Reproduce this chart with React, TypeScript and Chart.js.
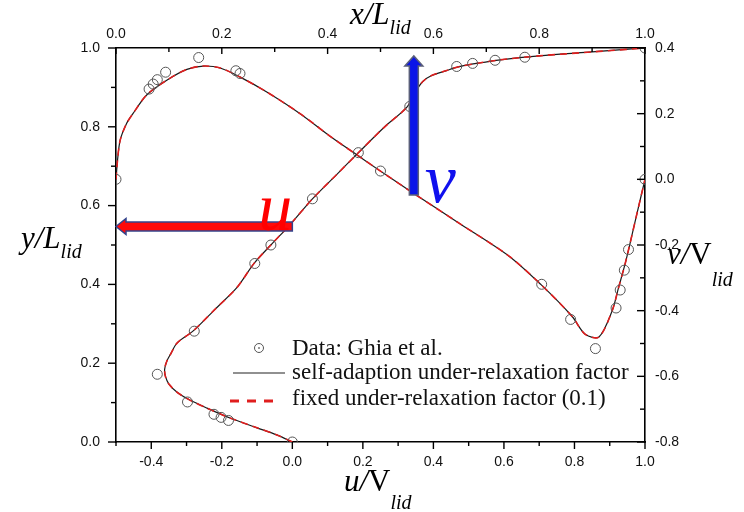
import React, { useEffect, useRef } from "react";
import { Chart, registerables } from "chart.js";

Chart.register(...registerables);

// ---- Ghia et al. (Re = 1000) reference data ----
const ghiaY = [1.0, 0.9766, 0.9688, 0.9609, 0.9531, 0.8516, 0.7344, 0.6172, 0.5, 0.4531, 0.2813, 0.1719, 0.1016, 0.0703, 0.0625, 0.0547, 0.0];
const ghiaU = [1.0, 0.65928, 0.57492, 0.51117, 0.46604, 0.33304, 0.18719, 0.05702, -0.0608, -0.10648, -0.27805, -0.38289, -0.2973, -0.2222, -0.20196, -0.18109, 0.0];
const ghiaX = [1.0, 0.9688, 0.9609, 0.9531, 0.9453, 0.9063, 0.8594, 0.8047, 0.5, 0.2344, 0.2266, 0.1563, 0.0938, 0.0781, 0.0703, 0.0625, 0.0];
const ghiaV = [0.0, -0.21388, -0.27669, -0.33714, -0.39188, -0.5155, -0.42665, -0.31966, 0.02526, 0.32235, 0.33075, 0.37095, 0.32627, 0.30353, 0.29012, 0.27485, 0.0];

// ---- simulation: u along vertical centreline ----
const simUY = [0, 0.018, 0.036, 0.061, 0.086, 0.107, 0.125, 0.147, 0.167, 0.185, 0.205, 0.225, 0.251, 0.282, 0.338, 0.391, 0.454, 0.5, 0.55, 0.617, 0.68, 0.734, 0.8, 0.85, 0.89, 0.915, 0.93, 0.942, 0.952, 0.962, 0.97, 0.98, 0.99, 1.0];
const simU = [0, -0.044, -0.1, -0.177, -0.242, -0.292, -0.325, -0.35, -0.36, -0.362, -0.356, -0.344, -0.327, -0.281, -0.218, -0.158, -0.108, -0.061, -0.008, 0.057, 0.127, 0.187, 0.262, 0.325, 0.35, 0.37, 0.395, 0.435, 0.47, 0.53, 0.59, 0.7, 0.85, 1.0];

// ---- simulation: v along horizontal centreline ----
const simVX = [0, 0.003, 0.008, 0.02, 0.032, 0.058, 0.096, 0.134, 0.165, 0.197, 0.234, 0.285, 0.348, 0.41, 0.455, 0.5, 0.56, 0.65, 0.743, 0.803, 0.862, 0.887, 0.913, 0.938, 0.95, 0.962, 0.97, 0.985, 1.0];
const simV = [0, 0.06, 0.12, 0.17, 0.2, 0.257, 0.302, 0.335, 0.345, 0.339, 0.312, 0.266, 0.2, 0.125, 0.075, 0.025, -0.04, -0.135, -0.234, -0.32, -0.417, -0.472, -0.48, -0.4, -0.33, -0.26, -0.207, -0.103, 0];

// ---- axes ticks ----
const uTicks = [-0.4, -0.2, 0.0, 0.2, 0.4, 0.6, 0.8, 1.0];
const uMinor = [-0.5, -0.3, -0.1, 0.1, 0.3, 0.5, 0.7, 0.9];
const xTicks = [0.0, 0.2, 0.4, 0.6, 0.8, 1.0];
const xMinor = [0.1, 0.3, 0.5, 0.7, 0.9];
const yTicks = [0.0, 0.2, 0.4, 0.6, 0.8, 1.0];
const yMinor = [0.1, 0.3, 0.5, 0.7, 0.9];
const vTicks = [-0.8, -0.6, -0.4, -0.2, 0.0, 0.2, 0.4];
const vMinor = [-0.7, -0.5, -0.3, -0.1, 0.1, 0.3];

const legendLabels = ["Data: Ghia et al.", "self-adaption under-relaxation factor", "fixed under-relaxation factor (0.1)"];

const SERIF = '"Liberation Serif", "Times New Roman", serif';
const SANS = '"Liberation Sans", Arial, sans-serif';

const pts = (xs: number[], ys: number[]) => xs.map((x, i) => ({ x, y: ys[i] }));

function drawRich(ctx: CanvasRenderingContext2D, parts: { t: string; f: string; dy: number }[], x: number, y: number) {
  let cx = x;
  for (const p of parts) {
    ctx.font = p.f;
    ctx.fillText(p.t, cx, y + p.dy);
    cx += ctx.measureText(p.t).width;
  }
}

const decorPlugin = {
  id: "decor",
  afterDatasetsDraw(chart: any) {
    const ctx: CanvasRenderingContext2D = chart.ctx;
    const { xu, xt, yl, yr } = chart.scales;
    ctx.save();
    // u arrow (horizontal, red)
    const ay = yl.getPixelForValue(0.547);
    const ax0 = xu.getPixelForValue(0.0);
    const ax1 = xu.getPixelForValue(-0.5);
    ctx.beginPath();
    ctx.moveTo(ax0, ay - 4.5);
    ctx.lineTo(ax1 + 10, ay - 4.5);
    ctx.lineTo(ax1 + 10, ay - 8);
    ctx.lineTo(ax1, ay);
    ctx.lineTo(ax1 + 10, ay + 8);
    ctx.lineTo(ax1 + 10, ay + 4.5);
    ctx.lineTo(ax0, ay + 4.5);
    ctx.closePath();
    ctx.fillStyle = "#ff0a0a";
    ctx.fill();
    ctx.strokeStyle = "#34448c";
    ctx.lineWidth = 1.5;
    ctx.stroke();
    // v arrow (vertical, blue)
    const bx = xt.getPixelForValue(0.563);
    const by0 = yr.getPixelForValue(-0.048);
    const by1 = yr.getPixelForValue(0.376);
    ctx.beginPath();
    ctx.moveTo(bx - 4.5, by0);
    ctx.lineTo(bx - 4.5, by1 + 10);
    ctx.lineTo(bx - 9, by1 + 10);
    ctx.lineTo(bx, by1);
    ctx.lineTo(bx + 9, by1 + 10);
    ctx.lineTo(bx + 4.5, by1 + 10);
    ctx.lineTo(bx + 4.5, by0);
    ctx.closePath();
    ctx.fillStyle = "#0a14e8";
    ctx.fill();
    ctx.strokeStyle = "#5a5f7a";
    ctx.lineWidth = 1.5;
    ctx.stroke();
    // letters
    ctx.textBaseline = "alphabetic";
    ctx.textAlign = "left";
    ctx.fillStyle = "#ff0000";
    ctx.font = `italic 68px ${SERIF}`;
    ctx.fillText("u", ax0 - 34, ay + 4);
    ctx.fillStyle = "#1010ee";
    ctx.font = `italic 70px ${SERIF}`;
    ctx.fillText("v", bx + 11, by0 + 7);
    ctx.restore();
  },
  afterDraw(chart: any) {
    const ctx: CanvasRenderingContext2D = chart.ctx;
    const { xu, xt, yl, yr } = chart.scales;
    const { left, right, top, bottom } = chart.chartArea;
    ctx.save();
    ctx.strokeStyle = "#000";
    ctx.lineWidth = 1.4;
    const line = (x0: number, y0: number, x1: number, y1: number) => {
      ctx.beginPath();
      ctx.moveTo(x0, y0);
      ctx.lineTo(x1, y1);
      ctx.stroke();
    };
    uTicks.forEach((v) => { const p = xu.getPixelForValue(v); line(p, bottom, p, bottom + 7); });
    uMinor.forEach((v) => { const p = xu.getPixelForValue(v); line(p, bottom, p, bottom + 4); });
    xTicks.forEach((v) => { const p = xt.getPixelForValue(v); line(p, top, p, top + 6); });
    xMinor.forEach((v) => { const p = xt.getPixelForValue(v); line(p, top, p, top + 4); });
    yTicks.forEach((v) => { const p = yl.getPixelForValue(v); line(left, p, left - 8, p); });
    yMinor.forEach((v) => { const p = yl.getPixelForValue(v); line(left, p, left - 5, p); });
    vTicks.forEach((v) => { const p = yr.getPixelForValue(v); line(right, p, right - 8, p); });
    vMinor.forEach((v) => { const p = yr.getPixelForValue(v); line(right, p, right - 5, p); });

    // axis titles
    ctx.fillStyle = "#000";
    ctx.textBaseline = "alphabetic";
    ctx.textAlign = "left";
    const big = `italic 31px ${SERIF}`;
    const bigUp = `31px ${SERIF}`;
    const sub = `italic 20px ${SERIF}`;
    drawRich(ctx, [{ t: "x/L", f: big, dy: 0 }, { t: "lid", f: sub, dy: 10 }], 350, 24);
    drawRich(ctx, [{ t: "y/L", f: big, dy: 0 }, { t: "lid", f: sub, dy: 10 }], 21, 248);
    drawRich(ctx, [{ t: "u/", f: big, dy: 0 }, { t: "V", f: bigUp, dy: 0 }, { t: "lid", f: sub, dy: 18 }], 344, 491);
    drawRich(ctx, [{ t: "v/", f: big, dy: 0 }, { t: "V", f: bigUp, dy: 0 }, { t: "lid", f: sub, dy: 22 }], 667, 264);

    // legend
    ctx.font = `23px ${SERIF}`;
    ctx.strokeStyle = "#555";
    ctx.lineWidth = 1;
    ctx.beginPath();
    ctx.arc(259, 348, 4.5, 0, Math.PI * 2);
    ctx.stroke();
    ctx.beginPath();
    ctx.arc(259, 348, 1, 0, Math.PI * 2);
    ctx.fillStyle = "#777";
    ctx.fill();
    ctx.fillStyle = "#111";
    ctx.fillText(legendLabels[0], 292, 355);
    ctx.strokeStyle = "#222";
    ctx.lineWidth = 1.2;
    line(233, 373, 285, 373);
    ctx.fillText(legendLabels[1], 292, 379);
    ctx.strokeStyle = "#e01e1e";
    ctx.lineWidth = 3;
    ctx.setLineDash([9, 8]);
    line(230, 401, 280, 401);
    ctx.setLineDash([]);
    ctx.fillText(legendLabels[2], 292, 405);
    ctx.restore();
  },
};

const tickFont = { family: SANS, size: 14 };
const fmt = (v: any) => Number(v).toFixed(1);

export default function App() {
  const ref = useRef<HTMLCanvasElement>(null);
  useEffect(() => {
    if (!ref.current) return;
    const axisCommon = (ticksArr: number[], padding: number, fit: (s: any) => void) => ({
      type: "linear",
      grid: { display: false, drawTicks: false },
      border: { display: true, color: "#000", width: 1.6 },
      ticks: { font: tickFont, color: "#111", padding, callback: fmt },
      afterBuildTicks: (s: any) => { s.ticks = ticksArr.map((v) => ({ value: v })); },
      afterFit: fit,
    });
    const chart = new Chart(ref.current, {
      type: "scatter",
      data: {
        datasets: [
          { label: "Ghia u", data: pts(ghiaU, ghiaY), xAxisID: "xu", yAxisID: "yl", pointRadius: 5, pointBorderColor: "#555", pointBackgroundColor: "rgba(0,0,0,0)", pointBorderWidth: 1, showLine: false },
          { label: "Ghia v", data: pts(ghiaX, ghiaV), xAxisID: "xt", yAxisID: "yr", pointRadius: 5, pointBorderColor: "#555", pointBackgroundColor: "rgba(0,0,0,0)", pointBorderWidth: 1, showLine: false },
          { label: "fixed u", data: pts(simU, simUY), xAxisID: "xu", yAxisID: "yl", showLine: true, pointRadius: 0, borderColor: "#e01e1e", borderWidth: 1.6, borderDash: [7, 5], tension: 0.3 },
          { label: "fixed v", data: pts(simVX, simV), xAxisID: "xt", yAxisID: "yr", showLine: true, pointRadius: 0, borderColor: "#e01e1e", borderWidth: 1.6, borderDash: [7, 5], tension: 0.3 },
          { label: "self u", data: pts(simU, simUY), xAxisID: "xu", yAxisID: "yl", showLine: true, pointRadius: 0, borderColor: "#1a1a1a", borderWidth: 1.2, tension: 0.3 },
          { label: "self v", data: pts(simVX, simV), xAxisID: "xt", yAxisID: "yr", showLine: true, pointRadius: 0, borderColor: "#1a1a1a", borderWidth: 1.2, tension: 0.3 },
        ],
      },
      options: {
        animation: false,
        responsive: false,
        devicePixelRatio: 1,
        layout: { padding: 0 },
        plugins: { legend: { display: false }, tooltip: { enabled: false } },
        scales: {
          xu: { ...axisCommon(uTicks, 12, (s: any) => { s.height = 70; }), axis: "x", position: "bottom", min: -0.5, max: 1.0 },
          xt: { ...axisCommon(xTicks, 5, (s: any) => { s.height = 48; }), axis: "x", position: "top", min: 0, max: 1.0 },
          yl: { ...axisCommon(yTicks, 16, (s: any) => { s.width = 116; }), axis: "y", position: "left", min: 0, max: 1.0 },
          yr: { ...axisCommon(vTicks, 10, (s: any) => { s.width = 99; }), axis: "y", position: "right", min: -0.8, max: 0.4 },
        } as any,
      },
      plugins: [decorPlugin],
    } as any);
    return () => chart.destroy();
  }, []);
  return (
    <div style={{ position: "absolute", left: 0, top: 0, width: 744, height: 512, background: "#fff" }}>
      <canvas ref={ref} width={744} height={512} />
    </div>
  );
}
